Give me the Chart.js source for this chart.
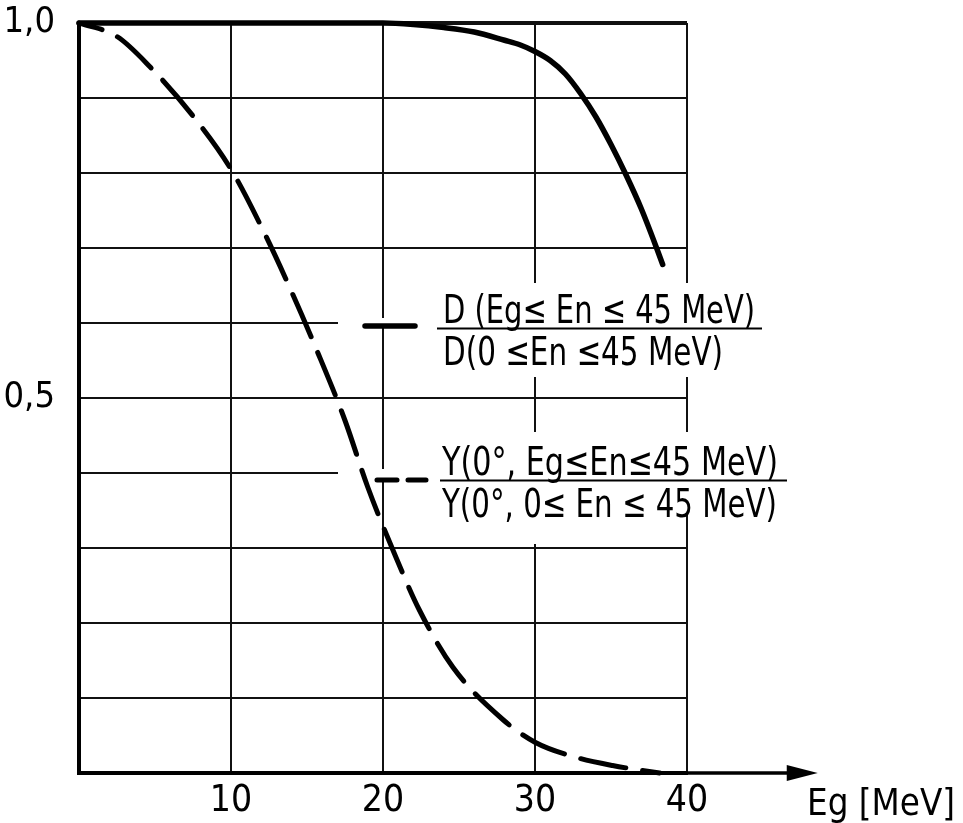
<!DOCTYPE html>
<html>
<head>
<meta charset="utf-8">
<script src="https://cdn.jsdelivr.net/npm/chart.js@4.4.1/dist/chart.umd.min.js"></script>
<style>
  body { margin: 0; background: #fff; }
  #wrap { width: 963px; height: 823px; }
</style>
</head>
<body>
<div id="wrap"><canvas id="grafico" width="963" height="823"></canvas></div>
<script>
// D(Eg<=En<=45 MeV) / D(0<=En<=45 MeV)  -- curva continua
const energiaD = [0, 10, 20, 22, 24, 26, 28, 29, 30, 31, 32, 33, 34, 35, 36, 37, 38, 38.4];
const cocienteD = [1.0, 1.0, 1.0, 0.998, 0.994, 0.988, 0.977, 0.971, 0.962, 0.950, 0.932, 0.906, 0.875, 0.838, 0.797, 0.752, 0.70, 0.678];

// Y(0°, Eg<=En<=45 MeV) / Y(0°, 0<=En<=45 MeV)  -- curva a trazos
const energiaY = [0, 2.5, 4.7, 7.5, 10, 12.1, 14, 15.7, 17.5, 19, 20.7, 22.4, 24.6, 27.9, 30, 32.5, 35.1, 38.2];
const cocienteY = [1.0, 0.982, 0.941, 0.876, 0.805, 0.724, 0.641, 0.561, 0.47, 0.381, 0.295, 0.217, 0.141, 0.071, 0.041, 0.022, 0.010, 0.0];

// etiquetas de los ejes
const valoresY = [0.5, 1.0];
const textosY = ['0,5', '1,0'];
const valoresX = [10, 20, 30, 40];
const tituloX = 'Eg [MeV]';
const leyendaD = ['D (Eg\u2264 En \u2264 45 MeV)', 'D(0 \u2264En \u226445 MeV)'];
const leyendaY = ['Y(0\u00b0, Eg\u2264En\u226445 MeV)', 'Y(0\u00b0, 0\u2264 En \u2264 45 MeV)'];

const FUENTE = "'Liberation Sans Narrow', 'DejaVu Sans Condensed', 'Noto Sans', sans-serif";

function texto(ctx, t, x, base, ancho, tam) {
    ctx.font = tam + 'px ' + FUENTE;
    const m = ctx.measureText(t).width;
    ctx.save();
    ctx.translate(x, base);
    ctx.scale(ancho / m, 1);
    ctx.fillText(t, 0, 0);
    ctx.restore();
}

// tapa la cuadrícula donde van los rótulos
const tapar = {
    id: 'tapar',
    beforeDatasetsDraw(chart) {
        const ctx = chart.ctx;
        ctx.save();
        ctx.fillStyle = '#fff';
        ctx.fillRect(338, 318, 90, 9);
        ctx.fillRect(428, 283, 372, 94);
        ctx.fillRect(338, 469, 90, 9);
        ctx.fillRect(428, 432, 372, 82);
        ctx.fillRect(525, 514, 20, 30);
        ctx.restore();
    },
    afterDraw(chart) {
        const ctx = chart.ctx;
        const a = chart.chartArea;
        const x = chart.scales.x;
        ctx.save();
        ctx.strokeStyle = '#000';
        ctx.fillStyle = '#000';
        // prolongación del eje y flecha
        const punta = x.getPixelForValue(48.6);
        ctx.lineWidth = 3.5;
        ctx.beginPath();
        ctx.moveTo(a.right, a.bottom);
        ctx.lineTo(punta - 20, a.bottom);
        ctx.stroke();
        ctx.beginPath();
        ctx.moveTo(punta, a.bottom);
        ctx.lineTo(punta - 31, a.bottom - 8);
        ctx.lineTo(punta - 31, a.bottom + 8);
        ctx.closePath();
        ctx.fill();
        ctx.textBaseline = 'alphabetic';
        texto(ctx, tituloX, 807, 815, 148, 38);

        // muestras de leyenda
        ctx.lineCap = 'round';
        ctx.lineWidth = 5.5;
        ctx.beginPath();
        ctx.moveTo(365, 326); ctx.lineTo(415, 326);
        ctx.stroke();
        ctx.lineWidth = 5;
        ctx.beginPath();
        ctx.moveTo(377, 480); ctx.lineTo(397, 480);
        ctx.moveTo(408, 480); ctx.lineTo(426, 480);
        ctx.stroke();

        // fracciones
        texto(ctx, leyendaD[0], 443, 323, 312, 39);
        texto(ctx, leyendaD[1], 443, 365, 280, 39);
        ctx.lineCap = 'butt';
        ctx.lineWidth = 2.2;
        ctx.beginPath();
        ctx.moveTo(437, 328.5); ctx.lineTo(762, 328.5);
        ctx.stroke();
        texto(ctx, leyendaY[0], 442, 475, 336, 39);
        texto(ctx, leyendaY[1], 442, 517, 335, 39);
        ctx.beginPath();
        ctx.moveTo(440, 480.5); ctx.lineTo(787, 480.5);
        ctx.stroke();
        ctx.restore();
    }
};

const ctx = document.getElementById('grafico').getContext('2d');
new Chart(ctx, {
    type: 'line',
    data: {
        datasets: [{
            label: 'D',
            data: energiaD.map((e, i) => ({ x: e, y: cocienteD[i] })),
            borderColor: '#000',
            borderWidth: 5.5,
            borderCapStyle: 'round',
            pointRadius: 0,
            cubicInterpolationMode: 'monotone',
            clip: false
        }, {
            label: 'Y',
            data: energiaY.map((e, i) => ({ x: e, y: cocienteY[i] })),
            borderColor: '#000',
            borderWidth: 5,
            borderDash: [46, 17],
            borderDashOffset: 22,
            borderCapStyle: 'round',
            pointRadius: 0,
            cubicInterpolationMode: 'monotone',
            clip: false
        }]
    },
    options: {
        responsive: false,
        animation: false,
        layout: { padding: { left: 0, top: 23, right: 276, bottom: 0 } },
        plugins: { legend: { display: false }, tooltip: { enabled: false } },
        scales: {
            x: {
                type: 'linear',
                min: 0,
                max: 40,
                afterFit: s => { s.height = 50; s.paddingLeft = 0; s.paddingRight = 0; },
                afterBuildTicks: s => { s.ticks = [0].concat(valoresX).map(v => ({ value: v })); },
                ticks: {
                    padding: 6,
                    color: '#000',
                    font: { family: FUENTE, size: 37 },
                    callback: v => valoresX.includes(v) ? String(v) : ''
                },
                grid: { color: '#111', lineWidth: 2, drawTicks: false },
                border: { color: '#000', width: 4 }
            },
            y: {
                min: 0,
                max: 1,
                afterFit: s => { s.width = 79; s.paddingTop = 0; s.paddingBottom = 0; },
                ticks: {
                    stepSize: 0.1,
                    padding: 24,
                    color: '#000',
                    font: { family: FUENTE, size: 36 },
                    callback: v => {
                        const i = valoresY.findIndex(w => Math.abs(w - v) < 1e-6);
                        return i >= 0 ? textosY[i] : '';
                    }
                },
                grid: {
                    color: '#111',
                    drawTicks: false,
                    lineWidth: c => (c.tick && Math.abs(c.tick.value - 1) < 1e-6) ? 4 : 2
                },
                border: { color: '#000', width: 4 }
            }
        }
    },
    plugins: [tapar]
});
</script>
</body>
</html>
